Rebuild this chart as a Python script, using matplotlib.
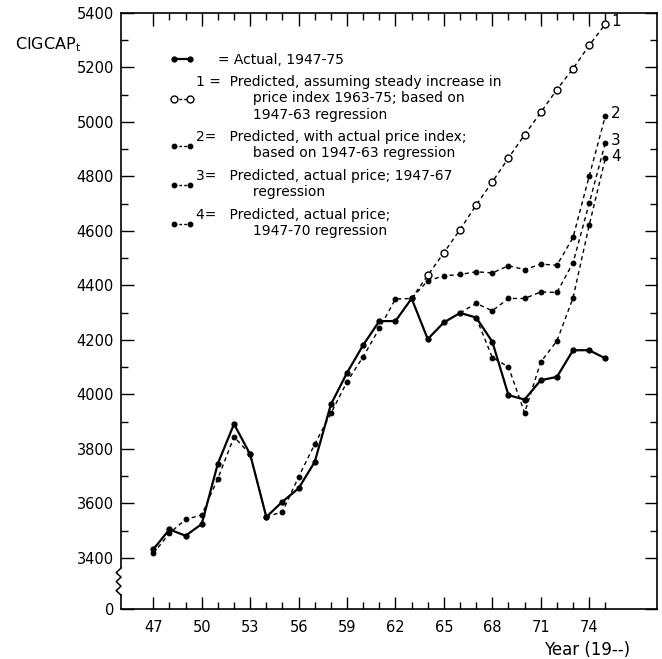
import numpy as np
import matplotlib
matplotlib.use('Agg')
import matplotlib.pyplot as plt
from matplotlib.transforms import blended_transform_factory
from matplotlib.lines import Line2D

# values (CIGCAP_t, year 19xx)
years_actual = list(range(47, 76))
actual = [3431, 3504, 3481, 3524, 3746, 3891, 3780, 3550, 3606, 3655,
          3752, 3963, 4079, 4181, 4269, 4269, 4352, 4203, 4264, 4299,
          4282, 4193, 3997, 3981, 4052, 4064, 4162, 4162, 4132]

# predicted 1: steady price increase, 1947-63 regression
years_pred1 = list(range(63, 76))
pred1 = [4352, 4437, 4520, 4605, 4695, 4780, 4868, 4953, 5035, 5119,
         5196, 5281, 5359]

# predicted 2: actual price index, 1947-63 regression
years_pred2 = list(range(47, 76))
pred2 = [3416, 3490, 3541, 3557, 3691, 3844, 3780, 3550, 3569, 3697,
         3817, 3930, 4046, 4138, 4242, 4350, 4352, 4417, 4435, 4440,
         4450, 4446, 4472, 4458, 4478, 4474, 4576, 4801, 5022]

# predicted 3: 1947-67 regression
years_pred3 = list(range(66, 76))
pred3 = [4299, 4334, 4307, 4352, 4352, 4376, 4374, 4483, 4701, 4924]

# predicted 4: 1947-70 regression
years_pred4 = list(range(67, 76))
pred4 = [4282, 4135, 4101, 3932, 4119, 4196, 4354, 4621, 4866]

x_ticks = list(range(47, 75, 3))
y_ticks = list(range(3400, 5401, 200))
y_floor = 3212   # where the broken axis shows "0"

indent = " " * 13
legend_labels = [
    "     = Actual, 1947-75",
    "1 =  Predicted, assuming steady increase in\n"
    + indent + "price index 1963-75; based on\n"
    + indent + "1947-63 regression",
    "2=   Predicted, with actual price index;\n"
    + indent + "based on 1947-63 regression",
    "3=   Predicted, actual price; 1947-67\n"
    + indent + "regression",
    "4=   Predicted, actual price;\n"
    + indent + "1947-70 regression",
]

dash = (0, (3, 2.5))

fig = plt.figure(figsize=(6.62, 6.59), dpi=100)
ax = fig.add_axes([121 / 662, 1 - 609 / 659, 536 / 662, 596 / 659])

ax.plot(years_pred2, pred2, color='black', lw=1, linestyle=dash,
        marker='o', ms=3.2, zorder=2)
ax.plot(years_pred3, pred3, color='black', lw=1, linestyle=dash,
        marker='o', ms=3.2, markevery=range(1, len(pred3)), zorder=2)
ax.plot(years_pred4, pred4, color='black', lw=1, linestyle=dash,
        marker='o', ms=3.2, markevery=range(1, len(pred4)), zorder=2)
ax.plot(years_pred1, pred1, color='black', lw=1, linestyle=dash,
        marker='o', ms=5, mfc='white', mec='black', mew=1,
        markevery=range(1, len(pred1)), zorder=3)
ax.plot(years_actual, actual, color='black', lw=1.6,
        marker='o', ms=3.5, zorder=4)

# labels at the line ends
for lab, xs, ys in [('1', years_pred1, pred1), ('2', years_pred2, pred2),
                    ('3', years_pred3, pred3), ('4', years_pred4, pred4)]:
    ax.text(xs[-1] + 0.35, ys[-1] + 8, lab, fontsize=11, ha='left', va='center')

ax.set_xlim(45.0, 78.2)
ax.set_ylim(y_floor, 5400)

ax.set_xticks(x_ticks)
ax.set_xticks(range(47, 76), minor=True)
ax.set_xticklabels([str(t) for t in x_ticks], fontsize=10.5)
ax.set_yticks([y_floor] + y_ticks)
ax.set_yticklabels(['0'] + [str(t) for t in y_ticks], fontsize=10.5)
ax.set_yticks(range(3500, 5400, 200), minor=True)
ax.tick_params(which='both', direction='in', top=True, right=True)
ax.tick_params(which='major', length=9, width=1)
ax.tick_params(which='minor', length=5, width=1)
ax.tick_params(axis='x', pad=8)
ax.tick_params(axis='y', pad=5)
for s in ax.spines.values():
    s.set_linewidth(1.2)

# broken y axis: straight spine above the break, zigzag, short stub below
y_top_break = 3362
y_bot_break = 3263
ax.spines['left'].set_bounds(y_top_break, 5400)
trans = blended_transform_factory(ax.transAxes, ax.transData)
zy = np.linspace(y_top_break, y_bot_break, 7)
zx = [0 if i % 2 == 0 else -0.009 for i in range(len(zy))]
ax.plot(zx, zy, color='black', lw=1.1, transform=trans, clip_on=False)
ax.plot([0, 0], [y_bot_break, y_floor], color='black', lw=1.2,
        transform=trans, clip_on=False)

handles = [
    Line2D([], [], color='black', lw=1.6, marker='o', ms=3.5),
    Line2D([], [], color='black', lw=1, linestyle=(0, (2, 1.5)), marker='o',
           ms=5, mfc='white', mec='black'),
    Line2D([], [], color='black', lw=1, linestyle=(0, (2, 1.5)), marker='o', ms=3.2),
    Line2D([], [], color='black', lw=1, linestyle=(0, (2, 1.5)), marker='o', ms=3.2),
    Line2D([], [], color='black', lw=1, linestyle=(0, (2, 1.5)), marker='o', ms=3.2),
]
ax.legend(handles, legend_labels, loc='upper left', frameon=False,
          bbox_to_anchor=(0.08, 0.943), fontsize=10, handlelength=1.8,
          handletextpad=0.1, labelspacing=0.62, numpoints=2, borderaxespad=0)

fig.text(15 / 662, 1 - 45 / 659, r'CIGCAP$_\mathregular{t}$', fontsize=11.5,
         ha='left', va='center')
fig.text(630 / 662, 1 - 650 / 659, 'Year (19--)', fontsize=12,
         ha='right', va='center')

fig.savefig('out.png', dpi=100)
